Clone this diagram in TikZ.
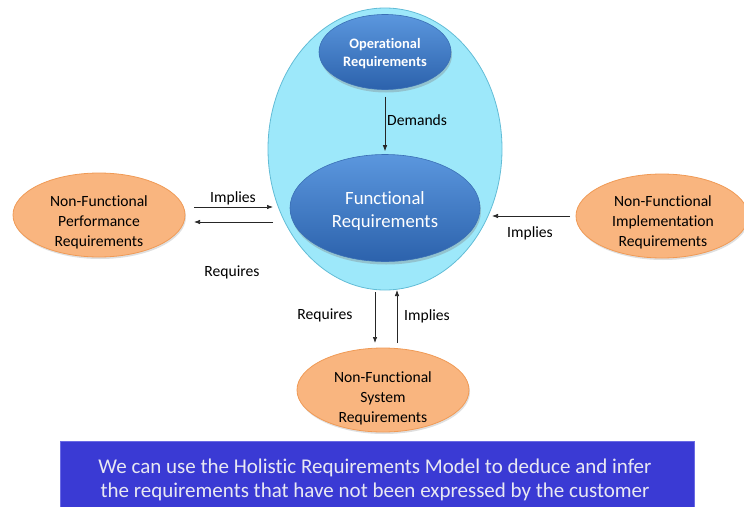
\documentclass[tikz,border=0pt]{standalone}
\usepackage{fontspec}
\setmainfont[Ligatures=NoCommon]{Carlito}
\usetikzlibrary{arrows.meta,shapes.geometric,shadows}
\definecolor{bigfill}{HTML}{9DE8FA}
\definecolor{bigdraw}{HTML}{62BCD6}
\definecolor{bluetop}{HTML}{5B97DE}
\definecolor{bluebot}{HTML}{2C62AC}
\definecolor{bluedraw}{HTML}{3A6FB5}
\definecolor{orfill}{HTML}{F9B57F}
\definecolor{ordraw}{HTML}{F09A55}
\definecolor{banfill}{HTML}{3A3AD4}
\definecolor{bandraw}{HTML}{6A6AE4}
\definecolor{bantext}{HTML}{E8E8F2}
\begin{document}
\begin{tikzpicture}[x=1pt,y=-1pt,
  blueell/.style={ellipse,draw=bluedraw,line width=0.6pt,top color=bluetop,bottom color=bluebot,
    text=white,align=center,inner sep=0pt,
    drop shadow={shadow xshift=1pt,shadow yshift=-3pt,opacity=0.35}},
  orell/.style={ellipse,draw=ordraw,line width=0.8pt,fill=orfill,inner sep=0pt,
    minimum width=172pt,minimum height=84pt,
    drop shadow={shadow xshift=1pt,shadow yshift=-2pt,opacity=0.25}},
  ortext/.style={text=black,align=center,inner sep=0pt,font=\fontsize{15.6}{20}\selectfont},
  arr/.style={-{Latex[length=6pt,width=4.5pt]},line width=0.7pt,draw=black!85},
  lbl/.style={font=\fontsize{15.6}{18}\selectfont,text=black,inner sep=0pt}]
\useasboundingbox (0,0) rectangle (744,506);
% big container ellipse
\node (big) [ellipse,draw=bigdraw,line width=0.8pt,fill=bigfill,minimum width=234pt,minimum height=282pt] at (385,149) {};
% operational
\node (op) [blueell,minimum width=132pt,minimum height=75pt] at (385,52) {};
\node (optxt) [text=white,align=center,inner sep=0pt,font=\fontsize{14.4}{18}\selectfont\bfseries] at (385,54) {Operational\\Requirements};
% functional
\node (fr) [blueell,minimum width=190pt,minimum height=107pt] at (385,208) {};
\node (frtxt) [text=white,align=center,inner sep=0pt,font=\fontsize{18.7}{22.5}\selectfont] at (385,211) {Functional\\Requirements};
% non-functional nodes
\node (nfp) [orell] at (99,215) {};
\node (nfptxt) [ortext] at (99,222) {Non-Functional\\Performance\\Requirements};
\node (nfi) [orell] at (662,216) {};
\node (nfitxt) [ortext] at (663,222) {Non-Functional\\Implementation\\Requirements};
\node (nfs) [orell] at (383,390) {};
\node (nfstxt) [ortext] at (383,398) {Non-Functional\\System\\Requirements};
% banner
\node (ban) [rectangle,draw=bandraw,line width=0.8pt,fill=banfill,
  minimum width=634pt,minimum height=70pt,anchor=north] at (377,441) {};
\node (bantxt) [text=bantext,align=center,font=\fontsize{21}{24.5}\selectfont,inner sep=0pt] at (375,480)
  {We can use the Holistic Requirements Model to deduce and infer\\the requirements that have not been expressed by the customer};
% connector end points
\coordinate (pA) at (194,207);
\coordinate (pB) at (273,207);
\coordinate (pC) at (273,222);
\coordinate (pD) at (194,222);
\coordinate (iA) at (570,216);
\coordinate (iB) at (492,216);
\coordinate (sA) at (375,292);
\coordinate (sB) at (375,343);
\coordinate (sC) at (397,343);
\coordinate (sD) at (397,290);
% connectors
\draw[arr,shorten <=7pt,shorten >=3pt] (op) -- (fr);
\draw[arr] (pA) -- (pB);
\draw[arr] (pC) -- (pD);
\draw[arr] (iA) -- (iB);
\draw[arr] (sA) -- (sB);
\draw[arr] (sC) -- (sD);
% labels
\node (lDem) [lbl,anchor=west] at (387,120) {Demands};
\node (lImpL) [lbl] at (233,198) {Implies};
\node (lReqL) [lbl] at (232,272) {Requires};
\node (lImpR) [lbl] at (530,233) {Implies};
\node (lReqB) [lbl] at (325,315) {Requires};
\node (lImpB) [lbl] at (427,316) {Implies};
\end{tikzpicture}
\end{document}
